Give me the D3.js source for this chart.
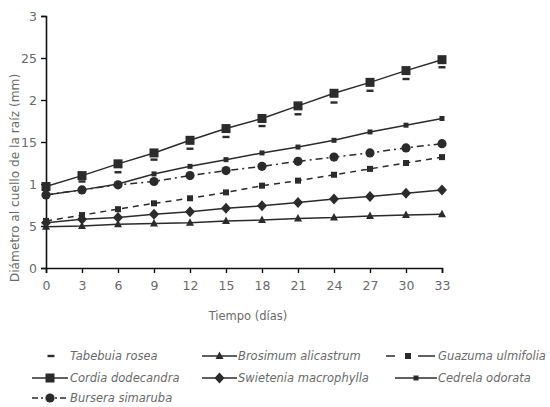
<!DOCTYPE html>
<html><head><meta charset="utf-8">
<script src="https://cdn.jsdelivr.net/npm/d3@7"></script>
<style>body{margin:0;background:#fff}svg{display:block}</style>
</head><body>
<svg id="c" width="550" height="407"></svg>
<script>
const days = [0,3,6,9,12,15,18,21,24,27,30,33];
const yTicks = [0,0.5,1,1.5,2,2.5,3];
const yTickLabels = ["0","5","1","15","2","25","3"];
const tabebuia  = [0.95,1.03,1.14,1.29,1.42,1.56,1.69,1.83,1.97,2.11,2.25,2.39];
const cordia    = [0.97,1.10,1.24,1.37,1.52,1.66,1.78,1.93,2.08,2.21,2.35,2.48];
const cedrela   = [0.87,0.93,1.00,1.12,1.21,1.29,1.37,1.44,1.52,1.62,1.70,1.78];
const bursera   = [0.87,0.93,0.99,1.03,1.10,1.16,1.21,1.27,1.32,1.37,1.43,1.48];
const guazuma   = [0.56,0.63,0.70,0.77,0.83,0.90,0.98,1.04,1.11,1.18,1.25,1.32];
const swietenia = [0.54,0.58,0.60,0.64,0.67,0.71,0.74,0.78,0.82,0.85,0.89,0.93];
const brosimum  = [0.49,0.50,0.52,0.53,0.54,0.56,0.57,0.59,0.60,0.62,0.63,0.64];

const series = [
  {name:"Tabebuia rosea", vals:tabebuia, line:false, marker:"dash"},
  {name:"Brosimum alicastrum", vals:brosimum, line:true, dash:null, marker:"tri"},
  {name:"Guazuma ulmifolia", vals:guazuma, line:true, dash:"6,5", marker:"sqs"},
  {name:"Cordia dodecandra", vals:cordia, line:true, dash:null, marker:"sqb"},
  {name:"Swietenia macrophylla", vals:swietenia, line:true, dash:null, marker:"dia"},
  {name:"Cedrela odorata", vals:cedrela, line:true, dash:null, marker:"sqt"},
  {name:"Bursera simaruba", vals:bursera, line:true, dash:"7,4,2,4", marker:"cir"}
];

const svg = d3.select("#c");
const x = d3.scaleLinear().domain([0,33]).range([46,442]);
const y = d3.scaleLinear().domain([0,3]).range([268,16]);
const ink = "#2b2b2b", txt = "#6a6a6a";
const font = "'DejaVu Sans', sans-serif";

function marker(g, type, cx, cy) {
  if (type==="dash") g.append("rect").attr("x",cx-3.5).attr("y",cy-1.2).attr("width",7).attr("height",2.4).attr("fill",ink);
  else if (type==="sqb") g.append("rect").attr("x",cx-4.5).attr("y",cy-4.5).attr("width",9).attr("height",9).attr("fill",ink);
  else if (type==="sqs") g.append("rect").attr("x",cx-3).attr("y",cy-3).attr("width",6).attr("height",6).attr("fill",ink);
  else if (type==="sqt") g.append("rect").attr("x",cx-2.5).attr("y",cy-2.5).attr("width",5).attr("height",5).attr("fill",ink);
  else if (type==="cir") g.append("circle").attr("cx",cx).attr("cy",cy).attr("r",4.6).attr("fill",ink);
  else if (type==="dia") g.append("path").attr("d",`M${cx},${cy-5.5}L${cx+5},${cy}L${cx},${cy+5.5}L${cx-5},${cy}Z`).attr("fill",ink);
  else if (type==="tri") g.append("path").attr("d",`M${cx},${cy-4.5}L${cx+4},${cy+3}L${cx-4},${cy+3}Z`).attr("fill",ink);
}

// axes
const yAxis = d3.axisLeft(y).tickValues(yTicks).tickSize(5).tickFormat((d,i)=>yTickLabels[i]);
const gy = svg.append("g").attr("transform","translate(46,0)").call(yAxis);
const xAxis = d3.axisBottom(x).tickValues(days).tickSize(5).tickFormat(d=>String(d));
const gx = svg.append("g").attr("transform","translate(0,268)").call(xAxis);
[gy,gx].forEach(g=>{
  g.select(".domain").attr("stroke","#111").attr("stroke-width",1.6);
  g.selectAll(".tick line").attr("stroke","#111").attr("stroke-width",1.4);
  g.selectAll("text").attr("fill",txt).attr("font-family",font).attr("font-size",12.5);
});
gy.selectAll("text").attr("x",-9);
gx.selectAll("text").attr("y",13);

// titles
svg.append("text").attr("transform","translate(19,178) rotate(-90)").attr("text-anchor","middle")
  .attr("font-family",font).attr("font-size",12.2).attr("fill",txt).text("Diámetro al cuello de la raíz (mm)");
svg.append("text").attr("x",248).attr("y",320).attr("text-anchor","middle")
  .attr("font-family",font).attr("font-size",11.5).attr("fill",txt).text("Tiempo (días)");

// lines
const lineGen = d3.line().x((d,i)=>x(days[i])).y(d=>y(d));
series.forEach(s=>{
  if (s.line) svg.append("path").attr("d",lineGen(s.vals)).attr("fill","none").attr("stroke",ink)
    .attr("stroke-width",1.5).attr("stroke-dasharray",s.dash);
});
series.forEach(s=>{
  const g = svg.append("g");
  s.vals.forEach((v,i)=>marker(g,s.marker,x(days[i]),y(v)));
});

// legend
const legendPos = [
  {x0:44,x1:58,tx:70,ty:356},
  {x0:202,x1:237,tx:238,ty:356},
  {x0:386,x1:435,tx:438,ty:356},
  {x0:32,x1:68,tx:70,ty:378},
  {x0:202,x1:237,tx:238,ty:378},
  {x0:395,x1:437,tx:438,ty:378},
  {x0:32,x1:68,tx:70,ty:398}
];
series.forEach((s,i)=>{
  const p = legendPos[i];
  const g = svg.append("g");
  const cy = p.ty;
  if (s.marker==="sqs") {
    g.append("line").attr("x1",p.x0).attr("x2",p.x0+9).attr("y1",cy).attr("y2",cy).attr("stroke",ink).attr("stroke-width",1.5);
    g.append("line").attr("x1",p.x1-17).attr("x2",p.x1).attr("y1",cy).attr("y2",cy).attr("stroke",ink).attr("stroke-width",1.5);
    marker(g,s.marker,p.x0+22,cy);
  } else {
    if (s.line) g.append("line").attr("x1",p.x0).attr("x2",p.x1).attr("y1",cy).attr("y2",cy)
      .attr("stroke",ink).attr("stroke-width",1.5).attr("stroke-dasharray",s.dash? "6,3,2,3":null);
    marker(g,s.marker,(p.x0+p.x1)/2,cy);
  }
  g.append("text").attr("x",p.tx).attr("y",cy+4).attr("font-family",font).attr("font-size",11.5)
    .attr("font-style","italic").attr("fill",txt).text(s.name);
});
</script>
</body></html>
